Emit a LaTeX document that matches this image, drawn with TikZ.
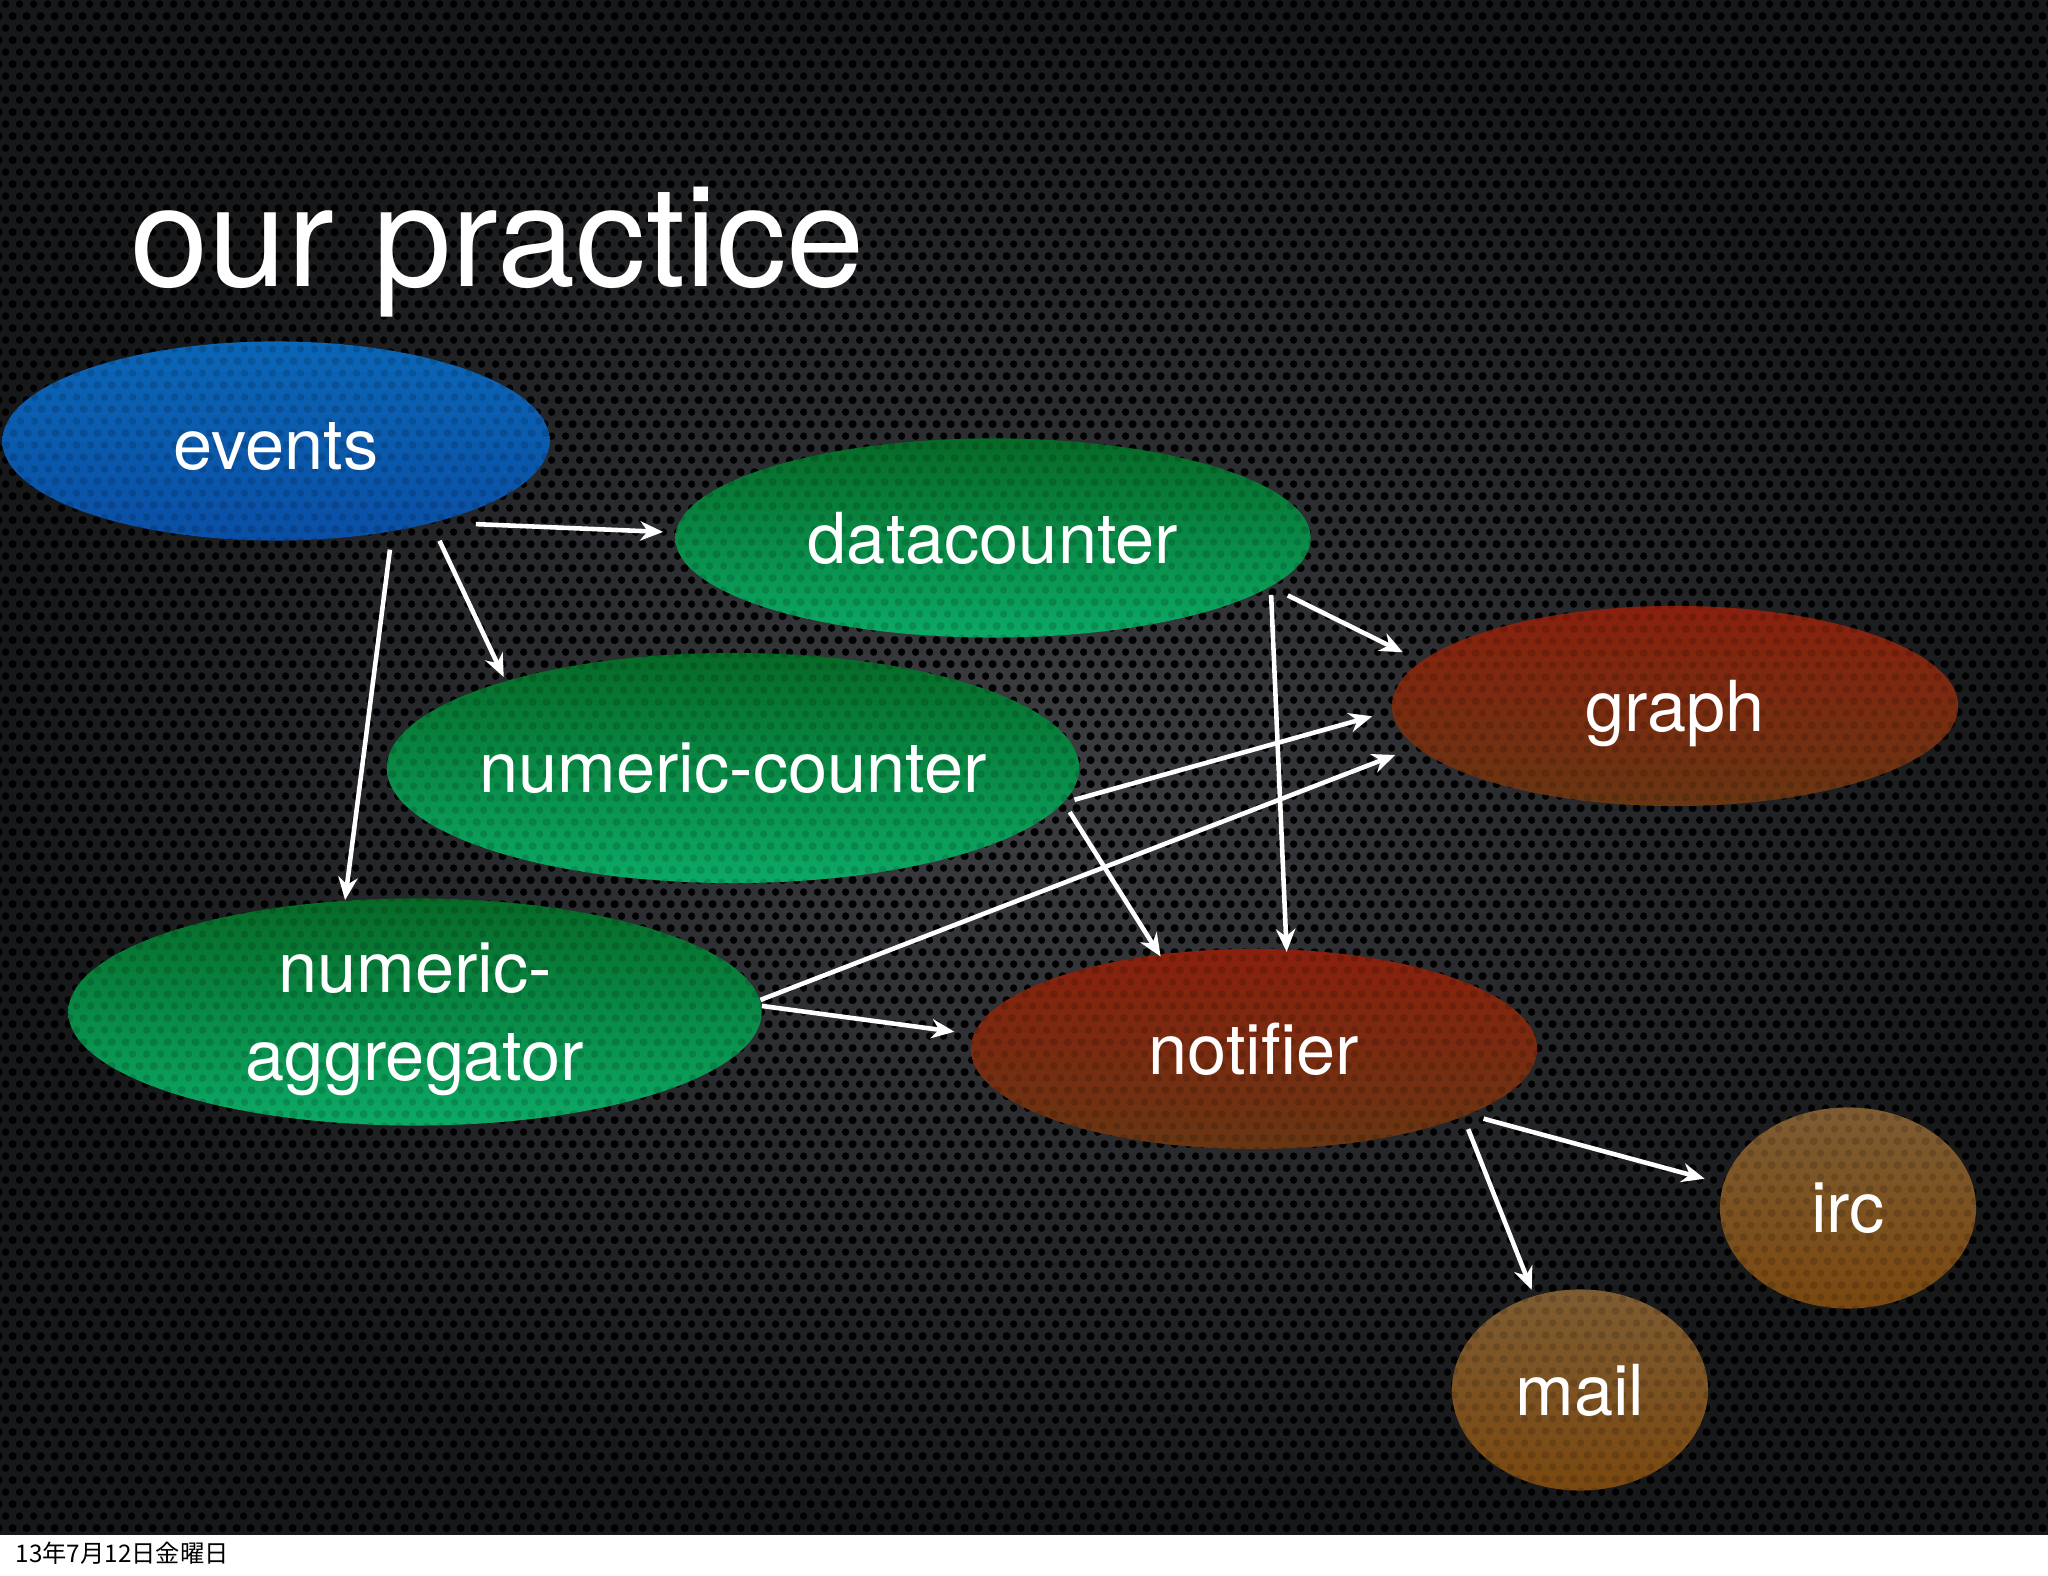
\documentclass[tikz,border=0pt]{standalone}
\usepackage{fontspec}
\setmainfont{TeX Gyre Heros}
\newfontfamily\cjkfont{Noto Sans CJK JP}
\usetikzlibrary{arrows.meta,shapes.geometric,patterns.meta}

\definecolor{bgin}{HTML}{3C3E42}
\definecolor{bgout}{HTML}{17181A}
\definecolor{bluetop}{HTML}{0B66B6}
\definecolor{bluebot}{HTML}{0A4FA6}
\definecolor{greentop}{HTML}{066A26}
\definecolor{greenbot}{HTML}{0BAA66}
\definecolor{redtop}{HTML}{8A200E}
\definecolor{redbot}{HTML}{683612}
\definecolor{browntop}{HTML}{7E5C32}
\definecolor{brownbot}{HTML}{7A4810}

\tikzdeclarepattern{
  name=holes,
  type=uncolored,
  bounding box={(0pt,0pt) and (4pt,6.93pt)},
  tile size={(4pt,6.93pt)},
  code={
    \fill (0pt,0pt) circle (1.1pt);
    \fill (4pt,0pt) circle (1.1pt);
    \fill (0pt,6.93pt) circle (1.1pt);
    \fill (4pt,6.93pt) circle (1.1pt);
    \fill (2pt,3.465pt) circle (1.1pt);
  }
}

\begin{document}
\begin{tikzpicture}[x=0.01cm, y=0.01cm,
    bubble/.style={ellipse, inner xsep=-1cm, inner ysep=0pt, align=center, text=white,
      font=\fontsize{20}{25}\selectfont, text depth=0pt,
      postaction={pattern=holes, pattern color=black, fill opacity=0.15}},
    bluebubble/.style={bubble, top color=bluetop, bottom color=bluebot},
    greenbubble/.style={bubble, top color=greentop, bottom color=greenbot},
    redbubble/.style={bubble, top color=redtop, bottom color=redbot},
    brownbubble/.style={bubble, top color=browntop, bottom color=brownbot},
    arrow/.style={-{Stealth[length=6.5pt, width=5.5pt]}, white, line width=1.3pt}
  ]
  \useasboundingbox (0,0) rectangle (2048,1576);

  % Background
  \shade[inner color=bgin, outer color=bgout] (0,41) rectangle (2048,1576);
  \fill[pattern=holes, pattern color=black] (0,41) rectangle (2048,1576);
  \fill[white] (0,0) rectangle (2048,41);

  % Title
  \node[anchor=base west, inner sep=0pt, text=white, font=\fontsize{40}{48}\selectfont] (title) at (130,1289) {our practice};

  % Sources
  \node[bluebubble, minimum width=5.47cm, minimum height=1.99cm] (events) at (276,1135) {\raisebox{-3pt}{events}};

  % Counters
  \node[greenbubble, minimum width=6.35cm, minimum height=1.99cm] (datacounter) at (993,1038) {datacounter};
  \node[greenbubble, minimum width=6.92cm, minimum height=2.30cm] (numcounter) at (733,808) {numeric-counter};
  \node[greenbubble, minimum width=6.93cm, minimum height=2.27cm] (numagg) at (415,564) {numeric-\\aggregator};

  % Outputs
  \node[redbubble, minimum width=5.66cm, minimum height=2.0cm] (graph) at (1675,870) {graph};
  \node[redbubble, minimum width=5.66cm, minimum height=2.0cm] (notifier) at (1254,527) {notifier};
  \node[brownbubble, minimum width=2.56cm, minimum height=2.01cm] (irc) at (1848,368) {irc};
  \node[brownbubble, minimum width=2.56cm, minimum height=2.01cm] (mail) at (1580,186) {mail};

  % Arrows
  \draw[arrow, shorten <=0.40cm, shorten >=0.12cm] (events.-27.4) -- (datacounter.179.6);
  \draw[arrow, shorten <=0.19cm, shorten >=0.04cm] (events.-28.4) -- (numcounter.159.1);
  \draw[arrow, shorten <=0.18cm] (events.-38.6) -- (numagg.122.7);
  \draw[arrow, shorten <=0.19cm, shorten >=0.20cm] (datacounter.-10.9) -- (graph.170.3);
  \draw[arrow, shorten <=0.08cm, shorten >=-0.03cm] (datacounter.-10.2) -- (notifier.72.3);
  \draw[arrow, shorten <=0.11cm, shorten >=0.20cm] (numcounter.-6.7) -- (graph.181.5);
  \draw[arrow, shorten <=0.11cm, shorten >=-0.03cm] (numcounter.-6.3) -- (notifier.135.3);
  \draw[arrow, shorten >=0.22cm] (numagg.2) -- (graph.189);
  \draw[arrow, shorten >=0.19cm] (numagg.1.5) -- (notifier.177);
  \draw[arrow, shorten <=0.15cm, shorten >=0.19cm] (notifier.-17.8) -- (irc.169.1);
  \draw[arrow, shorten <=0.13cm, shorten >=0.06cm] (notifier.-18.4) -- (mail.116.8);

  % Footer
  \node[anchor=base west, inner sep=0pt, font=\cjkfont\fontsize{6.9}{8}\selectfont] (date) at (15,13) {13年7月12日金曜日};
\end{tikzpicture}
\end{document}
